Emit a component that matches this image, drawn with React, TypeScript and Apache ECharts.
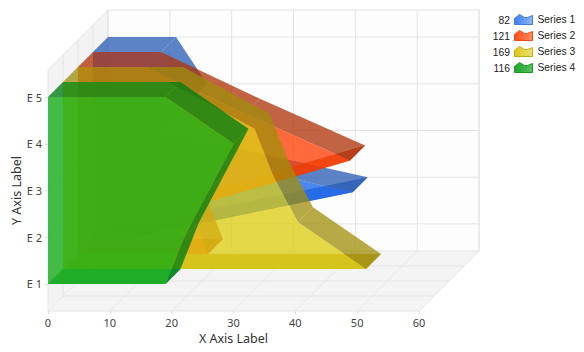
import React, { useEffect, useRef } from "react";
import * as echarts from "echarts";

const categories = [1, 2, 3, 4, 5];
const xTicks = [0, 10, 20, 30, 40, 50, 60];
const seriesNames = ["Series 1", "Series 2", "Series 3", "Series 4"];
const legendValues = ["82", "121", "169", "116"];
const series1 = [5, 42, 8, 16, 11];
const series2 = [21, 18, 44, 27, 11];
const series3 = [49, 38, 34, 31, 17];
const series4 = [19, 22, 26, 30, 19];

const X_MIN = 0, X_MAX = 60, Y_MIN = 0.42, Y_MAX = 5.58;
const STEP = 15;
const LAYERS = 4;
const LABEL_FONT = "Noto Sans";
const LEGEND_FONT = "Liberation Sans";

const palette = [
  { front: "rgba(24,101,236,.78)", side: "rgba(40,92,180,.76)", floor: "rgba(20,75,190,.78)", a: "#3f7fee", b: "#8fb8f8", line: "#3f7be0" },
  { front: "rgba(255,63,5,.78)", side: "rgba(175,52,12,.77)", floor: "rgba(200,45,0,.78)", a: "#ff4d1a", b: "#ff8a60", line: "#f04a14" },
  { front: "rgba(220,204,20,.78)", side: "rgba(160,142,10,.76)", floor: "rgba(175,149,0,.78)", a: "#dcc81c", b: "#ece070", line: "#c0ae10" },
  { front: "rgba(18,170,20,.78)", side: "rgba(0,125,18,.78)", floor: "rgba(32,160,77,.78)", a: "#1fa52a", b: "#58c060", line: "#189a22" },
];

const allValues = [series1, series2, series3, series4];

const legendIcon = "path://M0,10 L0,4 L5,0 L10,3 L13,3 L18,1 L18,10 Z";

function at(api: any, x: number, y: number, depth: number) {
  const c = api.coord([x, y]);
  return [c[0] + depth * STEP, c[1] - depth * STEP];
}

function poly(points: number[][], fill: string) {
  return { type: "polygon", silent: true, shape: { points }, style: { fill } };
}

function seg(p: number[], q: number[], stroke: string) {
  return {
    type: "line",
    silent: true,
    shape: { x1: p[0], y1: p[1], x2: q[0], y2: q[1] },
    style: { stroke, lineWidth: 1 },
  };
}

function renderChrome(params: any, api: any) {
  if (params.dataIndex !== 0) return null;
  const GRID = "#e4e4e4";
  const FAINT = "#e9e9e9";
  const kids: any[] = [];
  kids.push(poly([at(api, X_MIN, Y_MIN, 0), at(api, X_MAX, Y_MIN, 0), at(api, X_MAX, Y_MIN, LAYERS), at(api, X_MIN, Y_MIN, LAYERS)], "#f4f4f4"));
  kids.push(poly([at(api, X_MIN, Y_MIN, 0), at(api, X_MIN, Y_MAX, 0), at(api, X_MIN, Y_MAX, LAYERS), at(api, X_MIN, Y_MIN, LAYERS)], "#f3f3f3"));
  kids.push(poly([at(api, X_MIN, Y_MIN, LAYERS), at(api, X_MAX, Y_MIN, LAYERS), at(api, X_MAX, Y_MAX, LAYERS), at(api, X_MIN, Y_MAX, LAYERS)], "#fdfdfd"));
  xTicks.forEach((x) => {
    kids.push(seg(at(api, x, Y_MIN, 0), at(api, x, Y_MIN, LAYERS), FAINT));
    kids.push(seg(at(api, x, Y_MIN, LAYERS), at(api, x, Y_MAX, LAYERS), GRID));
  });
  categories.forEach((c) => {
    kids.push(seg(at(api, X_MIN, c, 0), at(api, X_MIN, c, LAYERS), FAINT));
    kids.push(seg(at(api, X_MIN, c, LAYERS), at(api, X_MAX, c, LAYERS), GRID));
  });
  for (let d = 0; d <= LAYERS; d++) {
    kids.push(seg(at(api, X_MIN, Y_MIN, d), at(api, X_MAX, Y_MIN, d), GRID));
    kids.push(seg(at(api, X_MIN, Y_MIN, d), at(api, X_MIN, Y_MAX, d), GRID));
  }
  kids.push(seg(at(api, X_MIN, Y_MAX, 0), at(api, X_MIN, Y_MAX, LAYERS), GRID));
  kids.push(seg(at(api, X_MIN, Y_MAX, LAYERS), at(api, X_MAX, Y_MAX, LAYERS), GRID));
  kids.push(seg(at(api, X_MAX, Y_MIN, 0), at(api, X_MAX, Y_MIN, LAYERS), GRID));
  kids.push(seg(at(api, X_MAX, Y_MIN, LAYERS), at(api, X_MAX, Y_MAX, LAYERS), GRID));
  return { type: "group", children: kids };
}

function makeRender(index: number) {
  const values = allValues[index];
  const colors = palette[index];
  const d0 = LAYERS - 1 - index;
  const d1 = d0 + 1;
  const first = categories[0];
  const last = categories[categories.length - 1];
  return (params: any, api: any) => {
    if (params.dataIndex !== 0) return null;
    const kids: any[] = [];
    kids.push(poly([at(api, 0, first, d0), at(api, values[0], first, d0), at(api, values[0], first, d1), at(api, 0, first, d1)], colors.floor));
    for (let i = 0; i < values.length - 1; i++) {
      kids.push(poly([
        at(api, values[i], categories[i], d0),
        at(api, values[i + 1], categories[i + 1], d0),
        at(api, values[i + 1], categories[i + 1], d1),
        at(api, values[i], categories[i], d1),
      ], colors.side));
    }
    kids.push(poly([at(api, 0, last, d0), at(api, values[last - 1], last, d0), at(api, values[last - 1], last, d1), at(api, 0, last, d1)], colors.side));
    const front = [at(api, 0, first, d0)];
    values.forEach((v, i) => front.push(at(api, v, categories[i], d0)));
    front.push(at(api, 0, last, d0));
    kids.push(poly(front, colors.front));
    return { type: "group", children: kids };
  };
}

export default function App() {
  const ref = useRef<HTMLDivElement>(null);
  useEffect(() => {
    const chart = echarts.init(ref.current!, undefined, { renderer: "svg" });
    chart.setOption({
      animation: false,
      backgroundColor: "#ffffff",
      grid: { left: 48, right: 165, top: 70, bottom: 41, outerBoundsMode: "none" },
      xAxis: {
        type: "value",
        min: X_MIN,
        max: X_MAX,
        interval: 10,
        splitLine: { show: false },
        axisLine: { show: false },
        axisTick: { show: true, length: 3, lineStyle: { color: "#dcdcdc" } },
        axisLabel: { color: "#444444", fontFamily: LABEL_FONT, fontSize: 11, margin: 6 },
        name: "X Axis Label",
        nameLocation: "middle",
        nameGap: 21,
        nameMoveOverlap: false,
        nameTextStyle: { color: "#333333", fontFamily: LABEL_FONT, fontSize: 12.5 },
      },
      yAxis: {
        type: "value",
        min: Y_MIN,
        max: Y_MAX,
        splitLine: { show: false },
        axisLine: { show: false },
        axisTick: { show: true, length: 3, customValues: categories, lineStyle: { color: "#dcdcdc" } },
        axisLabel: {
          color: "#444444",
          fontFamily: LABEL_FONT,
          fontSize: 11,
          margin: 6,
          customValues: categories,
          formatter: (v: number) => "E " + v,
        },
        name: "Y Axis Label",
        nameLocation: "middle",
        nameGap: 25,
        nameMoveOverlap: false,
        nameTextStyle: { color: "#333333", fontFamily: LABEL_FONT, fontSize: 12.5 },
      },
      legend: {
        orient: "vertical",
        left: 514,
        top: 14,
        padding: 0,
        itemWidth: 18,
        itemHeight: 10,
        itemGap: 5,
        selectedMode: false,
        textStyle: { color: "#222222", fontFamily: LEGEND_FONT, fontSize: 10.3 },
        data: seriesNames.map((name, i) => ({
          name,
          icon: legendIcon,
          itemStyle: {
            color: new echarts.graphic.LinearGradient(0, 0, 1, 0, [
              { offset: 0, color: palette[i].a },
              { offset: 1, color: palette[i].b },
            ]),
            borderColor: palette[i].line,
            borderWidth: 1,
          },
        })),
      },
      graphic: legendValues.map((value, i) => ({
        type: "text",
        x: 510,
        y: 20 + i * 16,
        silent: true,
        style: {
          text: value,
          align: "right",
          verticalAlign: "middle",
          fill: "#222222",
          font: `10.3px "${LEGEND_FONT}"`,
        },
      })),
      series: [
        {
          type: "custom",
          name: "chrome",
          coordinateSystem: "cartesian2d",
          silent: true,
          clip: false,
          z: 1,
          data: [[X_MIN, Y_MIN]],
          renderItem: renderChrome,
        },
        ...seriesNames.map((name, i) => ({
          type: "custom",
          name,
          coordinateSystem: "cartesian2d",
          silent: true,
          clip: false,
          z: 2 + i,
          itemStyle: { color: palette[i].a },
          encode: { x: 0, y: 1 },
          data: allValues[i].map((v, j) => [v, categories[j]]),
          renderItem: makeRender(i),
        })),
      ],
    });
    return () => chart.dispose();
  }, []);
  return <div ref={ref} style={{ position: "fixed", left: 0, top: 0, width: 584, height: 352 }} />;
}
